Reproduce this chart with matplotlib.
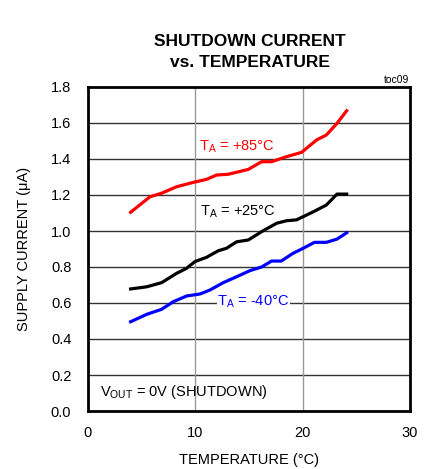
import matplotlib
matplotlib.use("Agg")
import matplotlib.pyplot as plt

plt.rcParams['font.family'] = ['Liberation Sans', 'DejaVu Sans']

x_85 = [3.97, 5.77, 6.86, 8.26, 9.8, 11.05, 11.98, 13.06, 14.93, 16.17, 17.1, 18.5, 19.9, 21.3, 22.2, 23.2, 24.1]
y_85 = [1.104, 1.19, 1.21, 1.246, 1.27, 1.287, 1.311, 1.315, 1.342, 1.385, 1.385, 1.413, 1.437, 1.506, 1.533, 1.598, 1.668]

x_25 = [3.97, 5.47, 6.86, 8.26, 9.19, 9.96, 11.05, 12.13, 12.9, 13.85, 14.93, 16.17, 17.57, 18.5, 19.43, 21.0, 22.2, 23.2, 24.1]
y_25 = [0.678, 0.69, 0.713, 0.765, 0.793, 0.83, 0.854, 0.89, 0.904, 0.94, 0.95, 0.996, 1.043, 1.057, 1.062, 1.107, 1.144, 1.205, 1.205]

x_m40 = [3.97, 5.47, 6.86, 7.94, 9.19, 10.43, 11.36, 12.6, 13.85, 15.1, 16.17, 17.1, 18.0, 19.1, 20.05, 21.1, 22.2, 23.2, 24.1]
y_m40 = [0.496, 0.537, 0.565, 0.607, 0.639, 0.65, 0.672, 0.713, 0.746, 0.78, 0.80, 0.833, 0.833, 0.876, 0.904, 0.937, 0.937, 0.955, 0.99]

x_ticks = [0, 10, 20, 30]
y_ticks = [0.0, 0.2, 0.4, 0.6, 0.8, 1.0, 1.2, 1.4, 1.6, 1.8]

fig = plt.figure(figsize=(4.26, 4.69), dpi=100)
ax = fig.add_axes([88/426, 58/469, 322/426, 324/469])

for yv in y_ticks[1:-1]:
    ax.axhline(yv, color='#333333', lw=1.0, zorder=1)
for xv in x_ticks[1:-1]:
    ax.axvline(xv, color='#999999', lw=1.0, zorder=1)

ax.plot(x_85, y_85, color='#ff0000', lw=2.3, zorder=3, solid_joinstyle='round')
ax.plot(x_25, y_25, color='#000000', lw=2.3, zorder=3, solid_joinstyle='round')
ax.plot(x_m40, y_m40, color='#0000ff', lw=2.3, zorder=3, solid_joinstyle='round')

ax.text(13.9, 1.47, r'T$_\mathregular{A}$ = +85°C', color='#ff0000', fontsize=10.5, ha='center', va='center', zorder=4)
ax.text(14.0, 1.107, r'T$_\mathregular{A}$ = +25°C', color='#000000', fontsize=10.5, ha='center', va='center', zorder=4)
ax.text(15.4, 0.607, r'T$_\mathregular{A}$ = -40°C', color='#0000ff', fontsize=10.5, ha='center', va='center', zorder=4,
        bbox=dict(facecolor='white', edgecolor='none', pad=0.5))
ax.text(1.1, 0.105, r'V$_\mathregular{OUT}$ = 0V (SHUTDOWN)', color='#000000', fontsize=10.5, ha='left', va='center', zorder=4)

ax.set_xlim(0, 30)
ax.set_ylim(0, 1.8)
ax.set_xticks(x_ticks)
ax.set_yticks(y_ticks)
ax.set_xticklabels([str(v) for v in x_ticks])
ax.set_yticklabels([f'{v:.1f}' for v in y_ticks])
ax.tick_params(axis='x', length=0, labelsize=10.5, pad=11)
ax.tick_params(axis='y', length=0, labelsize=10.5, pad=12)
for s in ax.spines.values():
    s.set_linewidth(2.0)
    s.set_color('black')

ax.set_xlabel('TEMPERATURE (°C)', fontsize=10.5, labelpad=9)
ax.set_ylabel('SUPPLY CURRENT (μA)', fontsize=10.5, labelpad=14)

fig.text(250/426, 1 - 52/469, 'SHUTDOWN CURRENT\nvs. TEMPERATURE', ha='center', va='center',
         fontsize=12.5, fontweight='bold', linespacing=1.45)
fig.text(409/426, 1 - 80/469, 'toc09', ha='right', va='center', fontsize=7.5)

fig.savefig('out.png', dpi=100)
